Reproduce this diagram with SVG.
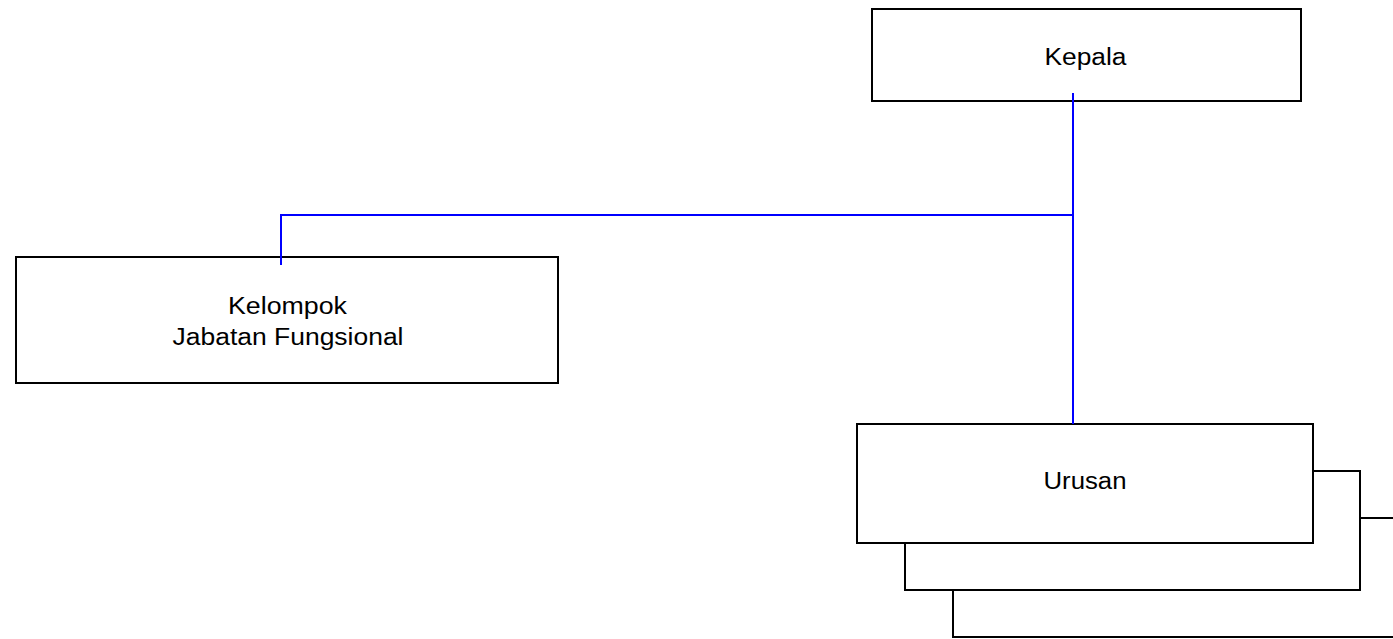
<svg xmlns="http://www.w3.org/2000/svg" width="1393" height="639" viewBox="0 0 1393 639">
<style>
.box{fill:#fff;stroke:#000;stroke-width:2}
.lbl{font-family:"Liberation Sans",Arial,sans-serif;font-size:23.5px;fill:#000;text-anchor:middle}
.conn{fill:none;stroke:#0000ff;stroke-width:2}
</style>
<rect width="1393" height="639" fill="#fff"/>
<g id="urusan3"><rect class="box" x="953" y="518" width="460" height="119"/></g>
<g id="urusan2"><rect class="box" x="905" y="471" width="455" height="119"/></g>
<g id="urusan"><rect class="box" x="857" y="424" width="456" height="119"/><text class="lbl" x="1085" y="488.5" textLength="83" lengthAdjust="spacingAndGlyphs">Urusan</text></g>
<g id="kepala"><rect class="box" x="872" y="9" width="429" height="92"/><text class="lbl" x="1085.5" y="64.5" textLength="82" lengthAdjust="spacingAndGlyphs">Kepala</text></g>
<g id="kelompok"><rect class="box" x="16" y="257" width="542" height="126"/><text class="lbl" x="287.5" y="313.5" textLength="119" lengthAdjust="spacingAndGlyphs">Kelompok</text><text class="lbl" x="288" y="345" textLength="231" lengthAdjust="spacingAndGlyphs">Jabatan Fungsional</text></g>
<g id="connectors">
<path class="conn" d="M1073 93 V424"/>
<path class="conn" d="M1073 215 H281 V265"/>
</g>
</svg>
